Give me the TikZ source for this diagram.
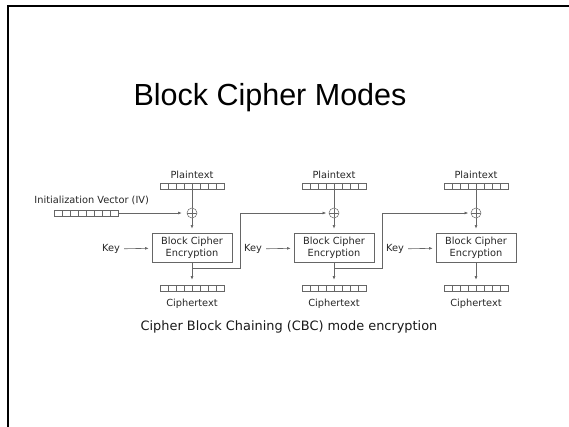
\documentclass[tikz,border=0pt]{standalone}
\usepackage{fontspec}
\setmainfont{DejaVu Sans}
\newfontfamily\titlefont{Liberation Sans}
\usetikzlibrary{arrows.meta,calc}
\colorlet{lc}{black!60}
\tikzset{
  lbl/.style={font=\fontsize{9.8}{11.6}\selectfont, text=black!85, inner sep=0pt},
  ln/.style={draw=lc, line width=0.6pt},
  arr/.style={ln, -{Latex[length=3.6pt,width=2.8pt]}, shorten >=3pt},
  reg/.style={draw=lc, line width=0.5pt, minimum width=64pt, minimum height=6pt, inner sep=0pt,
    path picture={\foreach \i in {1,...,7}{\draw[lc, line width=0.5pt]
      ($(path picture bounding box.south west)!\i/8!(path picture bounding box.south east)$) --
      ($(path picture bounding box.north west)!\i/8!(path picture bounding box.north east)$);}}},
  xorc/.style={circle, draw=lc, line width=0.5pt, minimum size=10pt, inner sep=0pt,
    path picture={\draw[lc, line width=0.5pt] (path picture bounding box.north) -- (path picture bounding box.south)
      (path picture bounding box.west) -- (path picture bounding box.east);}},
  enc/.style={draw=lc, line width=0.6pt, minimum width=80pt, minimum height=29pt, align=center,
    inner sep=0pt, font=\fontsize{9.8}{11.6}\selectfont, text=black!85},
}
\begin{document}
\begin{tikzpicture}[x=1pt,y=-1pt]
\useasboundingbox (0,0) rectangle (569,426);
\draw[line width=2pt] (8.3,428) -- (8.3,5.7) -- (571,5.7);
\node[font=\titlefont\fontsize{30.5}{36}\selectfont, anchor=base] (title) at (270,105) {Block Cipher Modes};
\foreach \k/\x in {1/192,2/334,3/476}{
  \node[reg] (p\k) at (\x,186) {};
  \node[lbl] (pl\k) at (\x,175) {Plaintext};
  \node[xorc] (x\k) at (\x,213) {};
  \node[enc] (e\k) at (\x,247.5) {Block Cipher\\Encryption};
  \node[reg] (c\k) at (\x,288) {};
  \node[lbl] (cl\k) at (\x,304) {Ciphertext};
  \node[lbl] (k\k) at (\x-81,249) {Key};
  \coordinate (t\k) at (\x,268);
  \draw[ln] (p\k) -- (x\k);
  \draw[arr, shorten >=4pt] (x\k) -- (e\k);
  \draw[arr, shorten >=5pt] (e\k) -- (c\k);
  \draw[arr, shorten <=4pt] (k\k) -- (e\k);
}
\coordinate (b1) at (240,268);
\coordinate (b2) at (382,268);
\draw[arr, shorten >=2.5pt] (t1) -- (b1) |- (x2);
\draw[arr, shorten >=2.5pt] (t2) -- (b2) |- (x3);
\node[lbl] (ivl) at (91.7,200) {Initialization Vector (IV)};
\node[reg] (iv) at (86.3,213) {};
\draw[arr, shorten >=5pt] (iv) -- (x1);
\node[font=\fontsize{12.9}{15}\selectfont, text=black!90] (cap) at (289,327) {Cipher Block Chaining (CBC) mode encryption};
\end{tikzpicture}
\end{document}
